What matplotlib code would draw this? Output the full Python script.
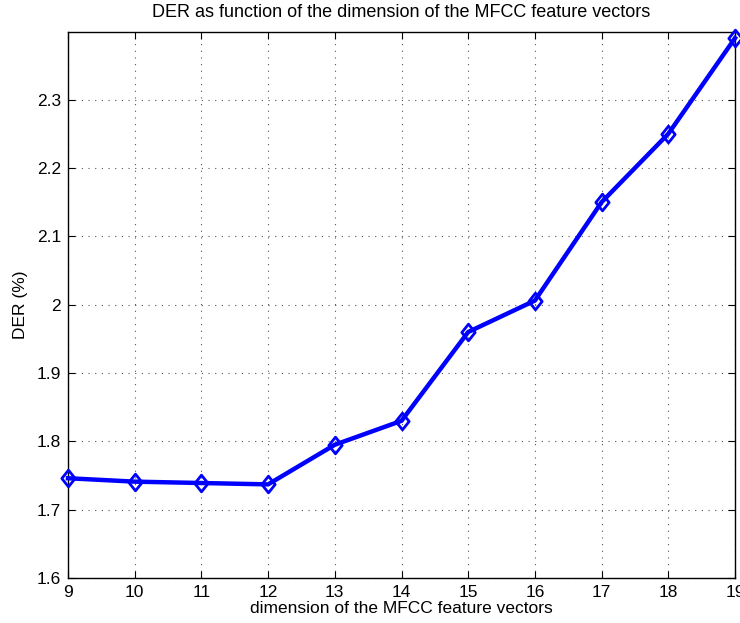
import matplotlib
matplotlib.use("Agg")
import matplotlib.pyplot as plt
from matplotlib.path import Path

# MFCC dimension vs diarization error rate
dims = [9, 10, 11, 12, 13, 14, 15, 16, 17, 18, 19]
der = [1.746, 1.741, 1.739, 1.737, 1.795, 1.830, 1.960, 2.006, 2.150, 2.250, 2.390]
xticks = list(range(9, 20))
yticks = [1.6, 1.7, 1.8, 1.9, 2.0, 2.1, 2.2, 2.3]
yticklabels = ["1.6", "1.7", "1.8", "1.9", "2", "2.1", "2.2", "2.3"]

plt.rcParams["font.family"] = ["Liberation Sans", "DejaVu Sans"]

# slightly narrow diamond marker
diamond = Path([(0, 1), (0.8, 0), (0, -1), (-0.8, 0), (0, 1)],
               [Path.MOVETO, Path.LINETO, Path.LINETO, Path.LINETO, Path.CLOSEPOLY])

fig = plt.figure(figsize=(7.4, 6.23), dpi=100)
ax = fig.add_axes([68 / 740, 45 / 623, 667 / 740, 546 / 623])

ax.plot(dims, der, color=(0, 0, 1), linewidth=3.2, marker=diamond, markersize=12,
        markerfacecolor="none", markeredgecolor=(0, 0, 1), markeredgewidth=2,
        clip_on=False, zorder=3)

ax.set_xlim(9, 19)
ax.set_ylim(1.6, 2.399)
ax.set_xticks(xticks)
ax.set_yticks(yticks)
ax.set_yticklabels(yticklabels)
ax.tick_params(direction="in", top=True, right=True, labelsize=12.5, length=5,
               width=0.8, pad=5)
ax.grid(True, linestyle=(0, (1, 5)), color="#555555", linewidth=0.8)
for s in ax.spines.values():
    s.set_linewidth(1.0)

ax.set_title("DER as function of the dimension of the MFCC feature vectors",
             fontsize=13, pad=11)
ax.set_xlabel("dimension of the MFCC feature vectors", fontsize=12.5, labelpad=1)
ax.set_ylabel("DER (%)", fontsize=12.5, labelpad=6)

fig.savefig("out.png", dpi=100)
